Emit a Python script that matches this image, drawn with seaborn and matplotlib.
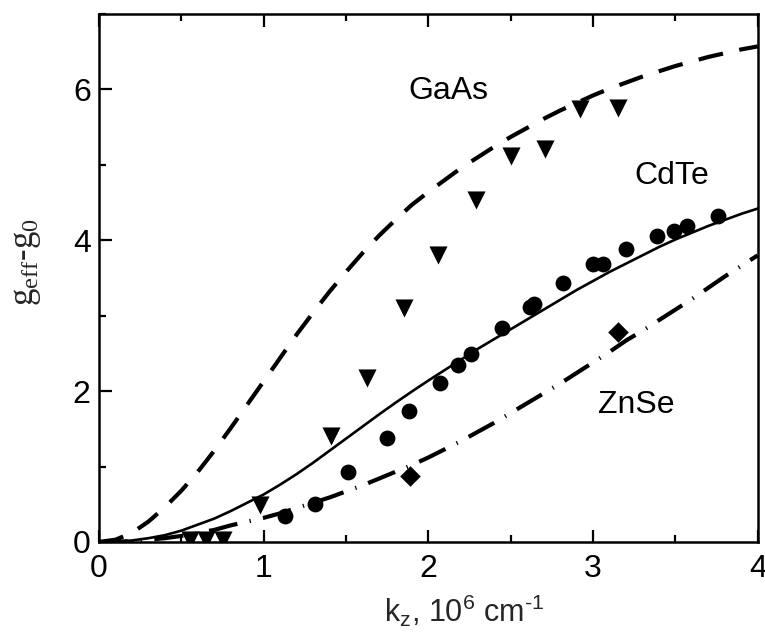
import numpy as np
import pandas as pd
import matplotlib
matplotlib.use("Agg")
import matplotlib.pyplot as plt
from matplotlib.ticker import MultipleLocator
import seaborn as sns

# ---- data ----
gaas_k = [0.55, 0.65, 0.75, 0.98, 1.41, 1.63, 1.85, 2.06, 2.29, 2.50, 2.71, 2.92, 3.15]
gaas_g = [0.03, 0.03, 0.03, 0.49, 1.40, 2.18, 3.10, 3.81, 4.54, 5.12, 5.21, 5.74, 5.76]

cdte_k = [1.13, 1.31, 1.51, 1.75, 1.88, 2.07, 2.18, 2.26, 2.45, 2.62, 2.64, 2.82, 3.00, 3.06, 3.20, 3.39, 3.49, 3.57, 3.76]
cdte_g = [0.34, 0.51, 0.93, 1.38, 1.73, 2.11, 2.35, 2.49, 2.84, 3.12, 3.15, 3.43, 3.68, 3.68, 3.88, 4.05, 4.12, 4.19, 4.32]

znse_k = [1.89, 3.15]
znse_g = [0.87, 2.79]

fit_k = [0.0, 0.1, 0.2, 0.3, 0.4, 0.5, 0.6, 0.7, 0.8, 0.9, 1.0, 1.1, 1.2, 1.3, 1.4, 1.5, 1.6, 1.7, 1.8, 1.9,
         2.0, 2.1, 2.2, 2.3, 2.4, 2.5, 2.6, 2.7, 2.8, 2.9, 3.0, 3.1, 3.2, 3.3, 3.4, 3.5, 3.6, 3.7, 3.8, 3.9, 4.0]
gaas_fit_g = [0.0, 0.03, 0.12, 0.27, 0.46, 0.68, 0.93, 1.21, 1.51, 1.82, 2.13, 2.44, 2.75, 3.04, 3.32, 3.58,
              3.83, 4.06, 4.27, 4.47, 4.64, 4.80, 4.96, 5.10, 5.24, 5.37, 5.49, 5.61, 5.72, 5.82, 5.92, 6.01,
              6.09, 6.17, 6.24, 6.31, 6.37, 6.43, 6.48, 6.53, 6.57]
cdte_fit_g = [0.0, 0.005, 0.02, 0.05, 0.09, 0.15, 0.23, 0.31, 0.41, 0.52, 0.63, 0.76, 0.90, 1.05, 1.21, 1.37,
              1.53, 1.69, 1.845, 1.995, 2.14, 2.28, 2.42, 2.56, 2.69, 2.82, 2.95, 3.08, 3.21, 3.34, 3.46, 3.58,
              3.69, 3.80, 3.91, 4.01, 4.10, 4.19, 4.27, 4.35, 4.42]
znse_fit_g = [0.0, 0.003, 0.01, 0.03, 0.05, 0.08, 0.12, 0.16, 0.22, 0.27, 0.32, 0.38, 0.45, 0.52, 0.59, 0.67,
              0.75, 0.84, 0.93, 1.02, 1.12, 1.23, 1.34, 1.46, 1.58, 1.71, 1.84, 1.97, 2.10, 2.24, 2.38, 2.52,
              2.67, 2.80, 2.94, 3.08, 3.22, 3.37, 3.52, 3.66, 3.80]

labels = ["GaAs", "CdTe", "ZnSe"]
label_pos = [(1.88, 5.98), (3.25, 4.85), (3.03, 1.82)]

# ---- plotting ----
sns.set_style("ticks")
plt.rcParams['font.family'] = ['Liberation Sans', 'DejaVu Sans']
plt.rcParams['mathtext.fontset'] = 'custom'
plt.rcParams['mathtext.rm'] = 'Liberation Sans'
plt.rcParams['mathtext.it'] = 'Liberation Sans'
plt.rcParams['axes.unicode_minus'] = False

fig = plt.figure(figsize=(7.65, 6.35), dpi=100)
ax = fig.add_axes([0.1294, 0.1465, 0.8611, 0.8315])

sns.lineplot(x=fit_k, y=gaas_fit_g, ax=ax, color='black', lw=3.0,
             linestyle=(0, (6, 4)), sort=False)
sns.lineplot(x=fit_k, y=cdte_fit_g, ax=ax, color='black', lw=1.9, sort=False)
sns.lineplot(x=fit_k, y=znse_fit_g, ax=ax, color='black', lw=3.0,
             linestyle=(0, (7, 3, 0.3, 3)), sort=False)

sns.scatterplot(x=gaas_k, y=gaas_g, ax=ax, marker='v', s=170, color='black', edgecolor='black', linewidth=0)
sns.scatterplot(x=cdte_k, y=cdte_g, ax=ax, marker='o', s=130, color='black', edgecolor='black', linewidth=0)
sns.scatterplot(x=znse_k, y=znse_g, ax=ax, marker='D', s=110, color='black', edgecolor='black', linewidth=0)

for lab, (lx, ly) in zip(labels, label_pos):
    ax.text(lx, ly, lab, fontsize=23, ha='left', va='center', color='black')

ax.set_xlim(0, 4)
ax.set_ylim(0, 7)
ax.xaxis.set_major_locator(MultipleLocator(1))
ax.xaxis.set_minor_locator(MultipleLocator(0.5))
ax.yaxis.set_major_locator(MultipleLocator(2))
ax.yaxis.set_minor_locator(MultipleLocator(1))
ax.tick_params(which='both', direction='in', top=True, right=False, labelsize=23, width=1.6, colors='black')
ax.tick_params(axis='x', which='major', length=9, pad=9)
ax.tick_params(axis='y', which='major', length=9, pad=6)
ax.tick_params(which='minor', length=5)
for sp in ax.spines.values():
    sp.set_visible(True)
    sp.set_linewidth(1.8)
    sp.set_color('black')

ax.set_xlabel(r'k$_\mathregular{z}$, 10$^\mathregular{6}$ cm$^{\text{-1}}$', fontsize=22)
ax.xaxis.set_label_coords(0.554, -0.095)
ax.set_ylabel(r'g$_\mathregular{eff}$-g$_\mathregular{0}$', fontsize=25,
              family=['Liberation Serif', 'DejaVu Serif'])
ax.yaxis.set_label_coords(-0.085, 0.53)

fig.savefig('out.png', dpi=100)
